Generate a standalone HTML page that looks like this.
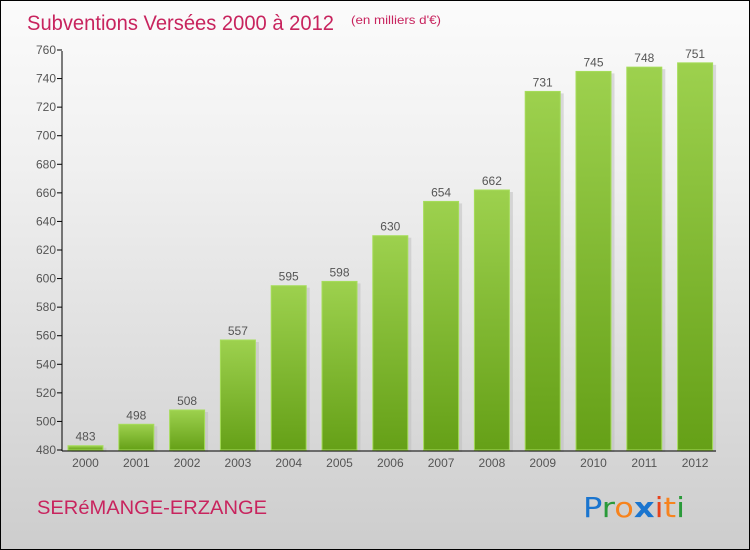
<!DOCTYPE html>
<html><head><meta charset="utf-8"><style>
body{margin:0}
#c{position:relative;width:748px;height:548px;border:1px solid #000;background:linear-gradient(#fbfbfb,#f0f0f0 30%,#cdcdcd);overflow:hidden;font-family:"Liberation Sans",sans-serif}
</style></head><body>
<div id="c">
<svg width="748" height="548" id="s">
<defs><linearGradient id="g" x1="0" y1="0" x2="0" y2="1"><stop offset="0" stop-color="#9dd14e"/><stop offset="1" stop-color="#65a017"/></linearGradient></defs>
<text x="26" y="29" font-size="21" fill="#c8245e" textLength="307" lengthAdjust="spacingAndGlyphs">Subventions Versées 2000 à 2012</text>
<text x="350" y="23" font-size="12" fill="#c8245e" textLength="90" lengthAdjust="spacingAndGlyphs">(en milliers d'€)</text>
<text x="36" y="513" font-size="19" fill="#c8245e" textLength="230" lengthAdjust="spacingAndGlyphs">SERéMANGE-ERZANGE</text>
<text x="582" y="516" font-size="28" font-family="'DejaVu Sans',sans-serif" textLength="102" lengthAdjust="spacingAndGlyphs"><tspan fill="#1a75cf">P</tspan><tspan fill="#2a9a3a">r</tspan><tspan fill="#f7831d">o</tspan><tspan fill="#1a75cf" font-weight="bold">x</tspan><tspan fill="#e8421c">i</tspan><tspan fill="#f7831d">t</tspan><tspan fill="#2a9a3a">i</tspan></text>
</svg>
</div>
<script>
const categories=["2000","2001","2002","2003","2004","2005","2006","2007","2008","2009","2010","2011","2012"];
const values=[483,498,508,557,595,598,630,654,662,731,745,748,751];
const yTicks=[480,500,520,540,560,580,600,620,640,660,680,700,720,740,760];
const NS="http://www.w3.org/2000/svg",s=document.getElementById('s');
const y=v=>449-(v-480)*400/280, x=i=>84.5+i*50.8;
function mk(t,a,p){const e=document.createElementNS(NS,t);for(const k in a)e.setAttribute(k,a[k]);(p||s).appendChild(e);return e;}
yTicks.forEach(v=>{
 const t=mk('text',{x:55,y:y(v)+4,'font-size':12,fill:'#555','text-anchor':'end'});t.textContent=v;
 
 
 const l=mk('line',{x1:56,x2:61,y1:y(v),y2:y(v),stroke:'#000'});
 
 
});
values.forEach((v,i)=>{
 const sh=mk('rect',{x:x(i)-17+3,y:y(v)+2,width:35,height:449-y(v),fill:'#bbb',opacity:0.5});
 
 
 const b=mk('rect',{x:x(i)-17.5,y:y(v),width:35,height:449-y(v),fill:'url(#g)',stroke:'#a6dd5a','stroke-width':1});
 
 
 const t=mk('text',{x:x(i),y:y(v)-5,'font-size':12,fill:'#555','text-anchor':'middle'});t.textContent=v;
 
 
 const c=mk('text',{x:x(i),y:466,'font-size':12,fill:'#555','text-anchor':'middle'});c.textContent=categories[i];
 
 
});
const ya=mk('line',{x1:61,x2:61,y1:50,y2:450,stroke:'#000'});


const xa=mk('line',{x1:61,x2:715,y1:450,y2:450,stroke:'#000'});


</script>
</body></html>
